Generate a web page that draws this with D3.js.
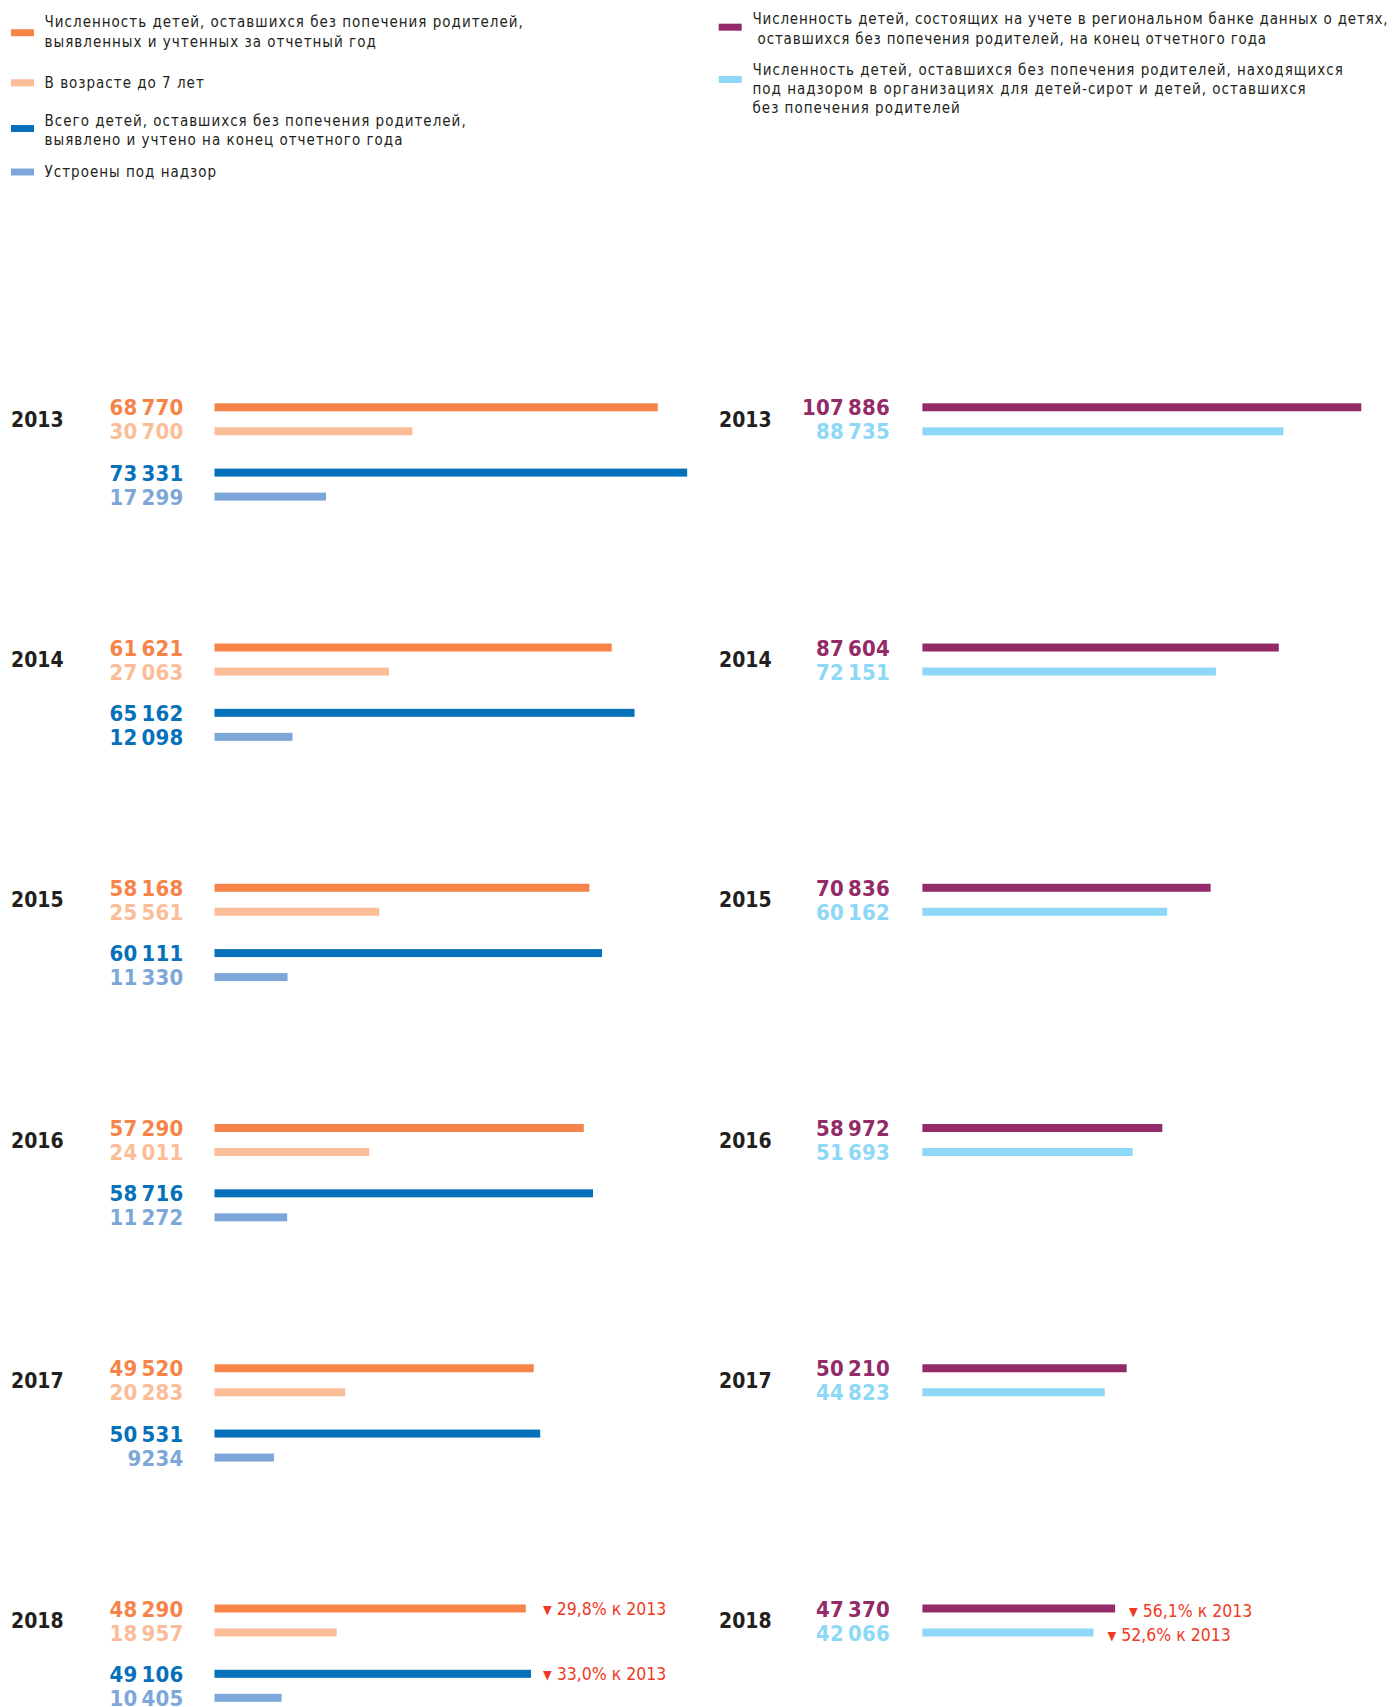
<!DOCTYPE html>
<html>
<head>
<meta charset="utf-8">
<script src="https://cdn.jsdelivr.net/npm/d3@7"></script>
<style>
  html, body { margin: 0; padding: 0; background: #fff; }
  svg { display: block; }
  .lg { font-family: "DejaVu Sans Condensed", "DejaVu Sans", sans-serif; font-stretch: condensed; font-size: 15px; fill: #231f20; letter-spacing: 1.0px; }
  .lg.tight { letter-spacing: 0.82px; }
  .num { font-family: "DejaVu Sans Condensed", "DejaVu Sans", sans-serif; font-stretch: condensed; font-weight: bold; font-size: 22px; letter-spacing: 0.2px; }
  .yr { font-family: "DejaVu Sans Condensed", "DejaVu Sans", sans-serif; font-stretch: condensed; font-weight: bold; font-size: 21px; fill: #231f20; }
  .ann { font-family: "DejaVu Sans Condensed", "DejaVu Sans", sans-serif; font-stretch: condensed; font-size: 17.5px; fill: #ee3b24; }
</style>
</head>
<body>
<script>
// ---------------- DATA ----------------
const years = ["2013", "2014", "2015", "2016", "2017", "2018"];
const identified      = [68770, 61621, 58168, 57290, 49520, 48290];
const under7          = [30700, 27063, 25561, 24011, 20283, 18957];
const totalEnd        = [73331, 65162, 60111, 58716, 50531, 49106];
const supervision     = [17299, 12098, 11330, 11272, 9234, 10405];
const regionalBank    = [107886, 87604, 70836, 58972, 50210, 47370];
const inOrganizations = [88735, 72151, 60162, 51693, 44823, 42066];

const legendLeft = [
  ["Численность детей, оставшихся без попечения родителей,", "выявленных и учтенных за отчетный год"],
  ["В возрасте до 7 лет"],
  ["Всего детей, оставшихся без попечения родителей,", "выявлено и учтено на конец отчетного года"],
  ["Устроены под надзор"]
];
const legendRight = [
  ["Численность детей, состоящих на учете в региональном банке данных о детях,", "\u00a0оставшихся без попечения родителей, на конец отчетного года"],
  ["Численность детей, оставшихся без попечения родителей, находящихся", "под надзором в организациях для детей-сирот и детей, оставшихся", "без попечения родителей"]
];
const changeLeft  = ["29,8% к 2013", "33,0% к 2013"];
const changeRight = ["56,1% к 2013", "52,6% к 2013"];

// ---------------- STYLE ----------------
const C = {
  orange: "#f68449", lightOrange: "#fbbd97", blue: "#0671ba", lightBlue: "#7ea7d9",
  purple: "#932b68", cyan: "#8dd8f6"
};

const W = 1394, H = 1707;
const svg = d3.select("body").append("svg").attr("width", W).attr("height", H);

const fmtG = d3.formatLocale({ decimal: ",", thousands: "\u2009", grouping: [3], currency: ["", ""] }).format(",d");
const fmt = v => v >= 10000 ? fmtG(v) : String(v);

// scales
const xL = d3.scaleLinear().domain([0, d3.max(totalEnd)]).range([214.5, 687.2]);
const xR = d3.scaleLinear().domain([0, d3.max(regionalBank)]).range([922.4, 1361.3]);
const yG = d3.scalePoint().domain(years).range([407.3, 1608.5]);

const barH = 8;

const leftSeries = [
  { vals: identified, color: C.orange, off: 0 },
  { vals: under7, color: C.lightOrange, off: 24 },
  { vals: totalEnd, color: C.blue, off: 65.3 },
  { vals: supervision, color: C.lightBlue, off: 89.3, labelColor: (y) => y === "2014" ? C.blue : C.lightBlue }
];
const rightSeries = [
  { vals: regionalBank, color: C.purple, off: 0 },
  { vals: inOrganizations, color: C.cyan, off: 24 }
];

function drawSide(series, x, labelRight, yearX) {
  const g = svg.append("g");
  g.selectAll("text.yr").data(years).join("text")
    .attr("class", "yr")
    .attr("x", yearX)
    .attr("y", d => yG(d) + 12)
    .attr("dy", "0.36em")
    .text(d => d);
  series.forEach(s => {
    g.selectAll(null).data(years).join("rect")
      .attr("x", x(0))
      .attr("y", d => yG(d) + s.off - barH / 2)
      .attr("width", (d, i) => x(s.vals[i]) - x(0))
      .attr("height", barH)
      .attr("fill", s.color);
    g.selectAll(null).data(years).join("text")
      .attr("class", "num")
      .attr("x", labelRight)
      .attr("y", d => yG(d) + s.off)
      .attr("dy", "0.37em")
      .attr("text-anchor", "end")
      .attr("fill", d => s.labelColor ? s.labelColor(d) : s.color)
      .text((d, i) => fmt(s.vals[i]));
  });
  return g;
}

drawSide(leftSeries, xL, 183.5, 11);
drawSide(rightSeries, xR, 890, 719);

// change annotations
function annot(g, x, y, txt) {
  const base = y + 17.5 * 0.36;
  const t = g.append("text").attr("class", "ann").attr("x", x).attr("y", base);
  t.append("tspan").attr("font-size", "12.5px").attr("y", base - 1).text("▼");
  t.append("tspan").attr("dx", 5).attr("y", base).text(txt);
}
const last = years[years.length - 1];
const li = years.length - 1;
const ga = svg.append("g");
const leftAnnX = xL(d3.max([identified[li], totalEnd[li]])) + 12;
annot(ga, leftAnnX, yG(last) + leftSeries[0].off, changeLeft[0]);
annot(ga, leftAnnX, yG(last) + leftSeries[2].off, changeLeft[1]);
annot(ga, xR(regionalBank[li]) + 14, yG(last) + rightSeries[0].off + 2, changeRight[0]);
annot(ga, xR(inOrganizations[li]) + 14, yG(last) + rightSeries[1].off + 2, changeRight[1]);

// legends
function legend(items, colors, sx, sw, tx, swatchY, lineYs, tightItems) {
  const g = svg.append("g");
  items.forEach((lines, i) => {
    g.append("rect").attr("x", sx).attr("y", swatchY[i] - 3.5).attr("width", sw).attr("height", 7).attr("fill", colors[i]);
    lines.forEach((ln, j) => {
      g.append("text").attr("class", tightItems.includes(i) ? "lg tight" : "lg")
        .attr("x", tx).attr("y", lineYs[i][j]).attr("dy", "0.36em")
        .attr("xml:space", "preserve").text(ln);
    });
  });
}
legend(legendLeft, [C.orange, C.lightOrange, C.blue, C.lightBlue], 11, 23, 44.6,
  [32.7, 82.8, 128.5, 172],
  [[21.8, 41.4], [82.8], [120.9, 139.4], [172]], []);
legend(legendRight, [C.purple, C.cyan], 718.7, 23, 752.5,
  [27.2, 79.5],
  [[18.5, 38.1], [69.7, 88.2, 107.8]], [0]);
</script>
</body>
</html>
